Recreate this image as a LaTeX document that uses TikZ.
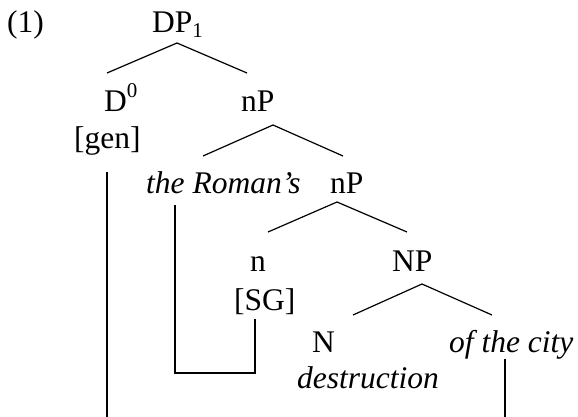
\documentclass[tikz,border=0pt]{standalone}
\usepackage{fontspec}
\setmainfont{Liberation Serif}
\begin{document}
\begin{tikzpicture}[x=1pt,y=-1pt,
  lbl/.style={anchor=base west,inner sep=0pt,font=\fontsize{31.5}{38}\selectfont},
  edge/.style={line width=1.2pt},
  link/.style={line width=1.3pt}]
\useasboundingbox (0,0) rectangle (578,417);
% labels
\node[lbl] (ex) at (7,33) {(1)};
\node[lbl] (dp) at (152,33) {DP\raisebox{-5pt}{\fontsize{21}{24}\selectfont 1}};
\node[lbl] (d0) at (104,112) {D\raisebox{14pt}{\fontsize{21}{24}\selectfont 0}};
\node[lbl] (gen) at (74,148) {[gen]};
\node[lbl] (np1) at (241,112) {nP};
\node[lbl] (rom) at (146,193) {\itshape the Roman’s};
\node[lbl] (np2) at (330,193) {nP};
\node[lbl] (n) at (250,271) {n};
\node[lbl] (sg) at (234,310) {[SG]};
\node[lbl] (NP) at (392,271) {NP};
\node[lbl] (N) at (312,352) {N};
\node[lbl] (city) at (449,352) {\itshape of the city};
\node[lbl] (des) at (297,388) {\itshape destruction};
% branch points
\coordinate (dpA) at (177,43);
\coordinate (dpL) at (107,73);
\coordinate (dpR) at (247,73);
\coordinate (n1A) at (273,125);
\coordinate (n1L) at (203,156);
\coordinate (n1R) at (343,156);
\coordinate (n2A) at (337,202);
\coordinate (n2L) at (268,232);
\coordinate (n2R) at (407,232);
\coordinate (NPA) at (422,284);
\coordinate (NPL) at (353,315);
\coordinate (NPR) at (492,315);
\draw[edge] (dpL) -- (dpA) -- (dpR);
\draw[edge] (n1L) -- (n1A) -- (n1R);
\draw[edge] (n2L) -- (n2A) -- (n2R);
\draw[edge] (NPL) -- (NPA) -- (NPR);
% movement links
\coordinate (dT) at (107,172);
\coordinate (dB) at (107,417);
\coordinate (rT) at (175,205);
\coordinate (rB) at (175,373);
\coordinate (sB) at (255,373);
\coordinate (sT) at (255,319);
\coordinate (cT) at (505,359);
\coordinate (cB) at (505,417);
\draw[link] (dT) -- (dB);
\draw[link] (rT) -- (rB) -- (sB) -- (sT);
\draw[link] (cT) -- (cB);
\end{tikzpicture}
\end{document}
